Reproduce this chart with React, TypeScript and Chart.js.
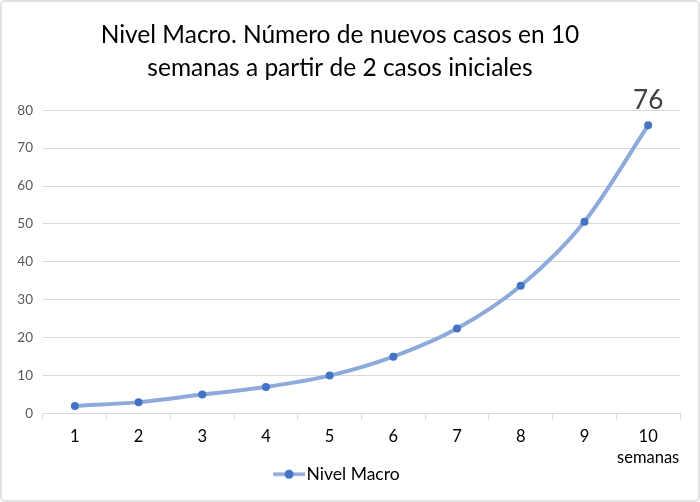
import React, { useEffect, useRef } from "react";
import { Chart, registerables } from "chart.js";

Chart.register(...registerables);

const categories: (string | string[])[] = ["1", "2", "3", "4", "5", "6", "7", "8", "9", ["10", "semanas"]];
const casos: number[] = [2, 3, 5, 7, 10, 15, 22.4, 33.7, 50.6, 76];
const titleLines: string[] = ["Nivel Macro. Número de nuevos casos en 10", "semanas a partir de 2 casos iniciales"];
const seriesName = "Nivel Macro";
const labelText = "76";

const LINE = "#8eaadb";
const POINT = "#4472c4";
const FONT = "Lato, 'Open Sans', sans-serif";

function legendIcon(): HTMLCanvasElement {
  const c = document.createElement("canvas");
  c.width = 40;
  c.height = 12;
  const ctx = c.getContext("2d")!;
  ctx.strokeStyle = LINE;
  ctx.lineWidth = 3.5;
  ctx.beginPath();
  ctx.moveTo(4, 6);
  ctx.lineTo(36, 6);
  ctx.stroke();
  ctx.fillStyle = POINT;
  ctx.beginPath();
  ctx.arc(20, 6, 4.5, 0, Math.PI * 2);
  ctx.fill();
  return c;
}

export default function App() {
  const ref = useRef<HTMLCanvasElement>(null);
  useEffect(() => {
    document.body.style.margin = "0";
    const icon = legendIcon();
    const borderPlugin = {
      id: "frame",
      beforeDraw(chart: any) {
        const ctx = chart.ctx;
        ctx.save();
        ctx.fillStyle = "#ffffff";
        ctx.fillRect(0, 0, chart.width, chart.height);
        ctx.strokeStyle = "#d9d9d9";
        ctx.lineWidth = 1.5;
        ctx.beginPath();
        (ctx as any).roundRect(1, 1, chart.width - 2, chart.height - 2, 4);
        ctx.stroke();
        ctx.restore();
      },
    };
    const labelPlugin = {
      id: "lastLabel",
      afterDatasetsDraw(chart: any) {
        const meta = chart.getDatasetMeta(0);
        const el = meta.data[meta.data.length - 1];
        if (!el) return;
        const ctx = chart.ctx;
        ctx.save();
        ctx.font = `26px ${FONT}`;
        ctx.fillStyle = "#404040";
        ctx.textAlign = "center";
        ctx.textBaseline = "alphabetic";
        ctx.fillText(labelText, el.x, el.y - 16);
        ctx.restore();
      },
    };
    const chart = new Chart(ref.current!, {
      type: "line",
      data: {
        labels: categories,
        datasets: [
          {
            label: seriesName,
            data: casos,
            borderColor: LINE,
            backgroundColor: POINT,
            borderWidth: 4,
            pointRadius: 4,
            pointBackgroundColor: POINT,
            pointBorderColor: POINT,
            pointBorderWidth: 0,
            cubicInterpolationMode: "monotone",
          },
        ],
      },
      options: {
        responsive: false,
        animation: false,
        layout: { padding: { left: 0, right: 20, top: 0, bottom: 9 } },
        plugins: {
          title: {
            display: true,
            text: titleLines,
            font: { family: FONT, size: 24.5, weight: "normal", lineHeight: 1.33 },
            color: "#000000",
            padding: { top: 19, bottom: 26 },
          },
          legend: {
            position: "bottom",
            labels: {
              usePointStyle: true,
              pointStyle: icon as any,
              font: { family: FONT, size: 17.5 },
              color: "#000000",
              padding: 0,
              generateLabels: () => [
                {
                  text: seriesName,
                  pointStyle: icon as any,
                  fillStyle: POINT,
                  strokeStyle: LINE,
                  lineWidth: 0,
                  hidden: false,
                  datasetIndex: 0,
                } as any,
              ],
            },
          },
          tooltip: { enabled: false },
        },
        scales: {
          x: {
            offset: true,
            grid: {
              offset: true,
              drawOnChartArea: false,
              drawTicks: true,
              tickLength: 6,
              color: "#d9d9d9",
            },
            border: { display: true, color: "#d9d9d9", width: 1 },
            ticks: {
              font: { family: FONT, size: 16.5, lineHeight: 1.3 },
              color: "#000000",
              padding: 6,
              maxRotation: 0,
              autoSkip: false,
            },
            afterFit: (s: any) => {
              s.height = 52;
            },
          },
          y: {
            min: 0,
            max: 80,
            ticks: {
              stepSize: 10,
              font: { family: FONT, size: 13.5 },
              color: "#595959",
              padding: 10,
            },
            grid: { color: "#d9d9d9", drawTicks: false },
            border: { display: false },
            afterFit: (s: any) => {
              s.width = 43;
            },
          },
        },
      },
      plugins: [borderPlugin, labelPlugin],
    });
    return () => chart.destroy();
  }, []);
  return <canvas ref={ref} width={700} height={502} style={{ display: "block" }} />;
}
